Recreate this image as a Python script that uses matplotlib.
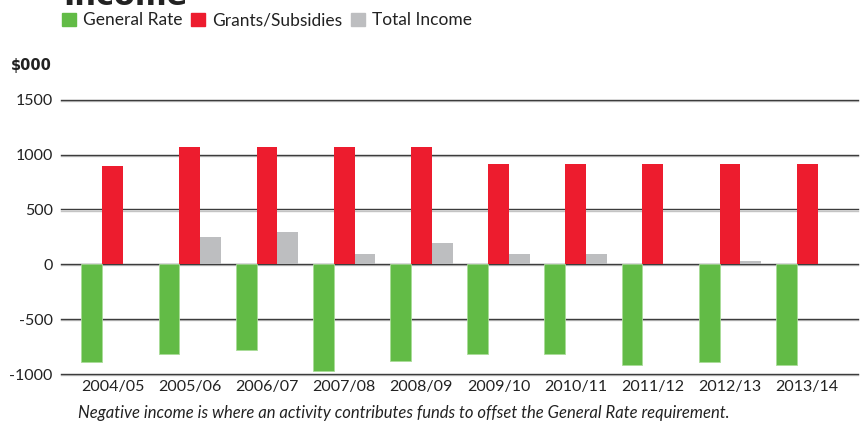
import matplotlib
matplotlib.use("Agg")
import matplotlib.pyplot as plt
import matplotlib.transforms as mtransforms
from matplotlib.patches import Patch
import numpy as np

# values in $000
years = ['2004/05', '2005/06', '2006/07', '2007/08', '2008/09',
         '2009/10', '2010/11', '2011/12', '2012/13', '2013/14']
general_rate = [-895, -818, -779, -970, -879, -818, -818, -915, -891, -921]
grants = [894, 1066, 1066, 1066, 1066, 912, 912, 912, 912, 912]
total_income = [0, 251, 294, 94, 194, 94, 94, 0, 30, 0]
yticks = [1500, 1000, 500, 0, -500, -1000]

green = '#62BB46'
red = '#ED1C2E'
grey = '#BDBEC0'

plt.rcParams['font.family'] = ['Lato', 'DejaVu Sans']

fig = plt.figure(figsize=(8.66, 4.23), dpi=100)
ax = fig.add_axes([0.0704, 0.1158, 0.9204, 0.6485])

x = np.arange(len(years))
w = 0.27
ax.bar(x - w, general_rate, w, color=green, edgecolor='#a9dc98', linewidth=0.6, zorder=3)
ax.bar(x, grants, w, color=red, zorder=3)
ax.bar(x + w, total_income, w, color=grey, zorder=3)

# gridlines with a light shadow underneath
ytrans = ax.get_yaxis_transform()
shadow = mtransforms.offset_copy(ytrans, fig=fig, x=0, y=-1.2, units='dots')
for t in yticks:
    ax.plot([0, 1], [t, t], color='#c4c4c4', lw=1.0, zorder=1, transform=shadow, clip_on=False)
    ax.plot([0, 1], [t, t], color='#3c3c3c', lw=1.0, zorder=2, transform=ytrans, clip_on=False)

ax.set_ylim(-1000, 1500)
ax.set_xlim(-0.67, 9.66)
ax.set_yticks(yticks)
ax.set_yticklabels([str(t) for t in yticks], fontsize=11.5, color='#222222')
ax.set_xticks(x)
ax.set_xticklabels(years, fontsize=11.5, color='#222222')
ax.tick_params(axis='y', length=0, pad=6)
ax.tick_params(axis='x', length=0, pad=4)
for s in ax.spines.values():
    s.set_visible(False)

fig.text(0.012, 0.835, '$000', fontsize=10.5, fontweight='bold', family='DejaVu Sans', color='#222222')
fig.text(0.073, 0.987, 'Income', fontsize=22, fontweight='bold', family='DejaVu Sans',
         color='#222222', va='baseline')

handles = [Patch(color=green, label='General Rate'),
           Patch(color=red, label='Grants/Subsidies'),
           Patch(color=grey, label='Total Income')]
fig.legend(handles=handles, loc='upper left', bbox_to_anchor=(0.054, 1.008), ncol=3,
           frameon=False, fontsize=12.5, handlelength=0.8, handleheight=0.8,
           handletextpad=0.4, columnspacing=0.5, labelcolor='#222222')

fig.text(0.09, 0.012, 'Negative income is where an activity contributes funds to offset the General Rate requirement.',
         fontsize=12, style='italic', color='#222222')

fig.savefig('out.png', dpi=100)
